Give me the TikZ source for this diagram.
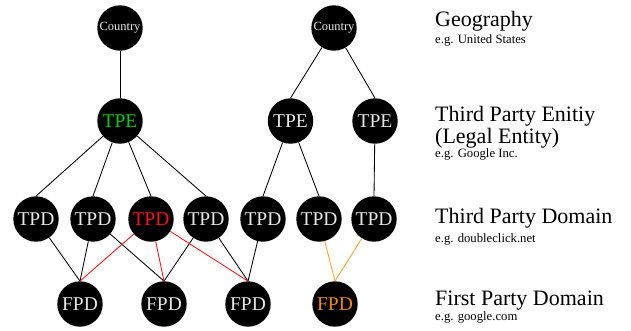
\documentclass[tikz,border=0pt]{standalone}
\usepackage{fontspec}
\setmainfont{Liberation Serif}
\definecolor{nodetext}{HTML}{E6E6E6}
\definecolor{tpegreen}{HTML}{00D000}
\definecolor{tpdred}{HTML}{FF1010}
\definecolor{fpdorange}{HTML}{F08C00}
\definecolor{edgeorange}{HTML}{FFA020}
\tikzset{
  ent/.style={circle,fill=black,minimum size=45.4pt,inner sep=0pt,text=nodetext,font=\fontsize{19.5}{19.5}\selectfont},
  ctry/.style={ent,font=\fontsize{12.5}{12.5}\selectfont},
  edge/.style={draw=black,line width=0.85pt},
  rededge/.style={draw=tpdred,line width=0.85pt},
  oredge/.style={draw=edgeorange,line width=0.85pt},
  head/.style={anchor=base west,inner sep=0pt,font=\fontsize{22}{22}\selectfont},
  sub/.style={anchor=base west,inner sep=0pt,font=\fontsize{12.7}{12.7}\selectfont}
}
\begin{document}
\begin{tikzpicture}[x=1pt,y=-1pt]
\useasboundingbox (0,0) rectangle (631,330);
% nodes
\node[ctry] (c1) at (120,28) {Country};
\node[ctry] (c2) at (334,28) {Country};
\node[ent,text=tpegreen] (e1) at (120,121) {TPE};
\node[ent] (e2) at (290.5,121) {TPE};
\node[ent] (e3) at (375,121) {TPE};
\node[ent] (d1) at (36,219) {TPD};
\node[ent] (d2) at (93,219) {TPD};
\node[ent,text=tpdred] (d3) at (151,219) {TPD};
\node[ent] (d4) at (206,219) {TPD};
\node[ent] (d5) at (263,219) {TPD};
\node[ent] (d6) at (319,219) {TPD};
\node[ent] (d7) at (374,219) {TPD};
\node[ent] (f1) at (80,304) {FPD};
\node[ent] (f2) at (164,304) {FPD};
\node[ent] (f3) at (248,304) {FPD};
\node[ent,text=fpdorange] (f4) at (335,304) {FPD};
% edges
\draw[edge] (c1) -- (e1);
\draw[edge] (c2) -- (e2.north);
\draw[edge] (c2) -- (e3.north);
\draw[edge] (e1) -- (d1.north);
\draw[edge] (e1) -- (d2.north);
\draw[edge] (e1) -- (d3.north);
\draw[edge] (e1) -- (d4.north);
\draw[edge] (e2) -- (d5.north);
\draw[edge] (e2) -- (d6.north);
\draw[edge] (e3) -- (d7.north);
\draw[edge] (d1) -- (f1.north);
\draw[edge] (d2) -- (f1.north);
\draw[edge] (d2) -- (f2.north);
\draw[edge] (d4) -- (f2.north);
\draw[edge] (d4) -- (f3.north);
\draw[edge] (d5) -- (f3.north);
\draw[rededge] (d3) -- (f1.north);
\draw[rededge] (d3) -- (f2.north);
\draw[rededge] (d3) -- (f3.north);
\draw[oredge] (d6) -- (f4.north);
\draw[oredge] (d7) -- (f4.north);
% labels
\node[head] (lg) at (435,26) {Geography};
\node[sub] (lgs) at (435,43.5) {e.g. United States};
\node[head,align=left,font=\fontsize{22}{19}\selectfont] (le) at (435,143) {Third Party Enitiy\\(Legal Entity)};
\node[sub] (les) at (435,157) {e.g. Google Inc.};
\node[head] (ld) at (435,223) {Third Party Domain};
\node[sub] (lds) at (435,242) {e.g. doubleclick.net};
\node[head] (lf) at (435,305) {First Party Domain};
\node[sub] (lfs) at (435,320.5) {e.g. google.com};
\end{tikzpicture}
\end{document}
